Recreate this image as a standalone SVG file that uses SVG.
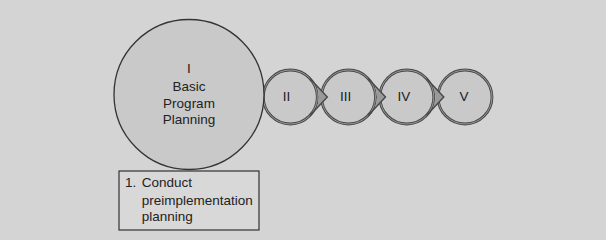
<svg xmlns="http://www.w3.org/2000/svg" width="606" height="240" viewBox="0 0 606 240">
<style>
.t{font-family:"Liberation Sans",Arial,sans-serif;font-size:13.5px;fill:#222}
.c{text-anchor:middle}
.ring{fill:#c9c9c9;stroke:#484848;stroke-width:2.8}
.ringin{fill:none;stroke:#a0a0a0;stroke-width:0.9}
.ah{fill:#9a9a9a;stroke:none}
.al{fill:none;stroke:#484848;stroke-width:1.4;stroke-linejoin:miter}
</style>
<rect x="0" y="0" width="606" height="240" fill="#d4d4d4"/>
<g id="node-V">
<circle class="ring" cx="465" cy="97" r="27"/><circle class="ringin" cx="465" cy="97" r="27"/>
<text class="t c" x="464" y="100.5">V</text>
</g>
<g id="node-IV">
<circle class="ring" cx="406.8" cy="97" r="27"/><circle class="ringin" cx="406.8" cy="97" r="27"/>
<text class="t c" x="404" y="100.5">IV</text>
</g>
<g id="node-III">
<circle class="ring" cx="348.5" cy="97" r="27"/><circle class="ringin" cx="348.5" cy="97" r="27"/>
<text class="t c" x="345.7" y="100.5">III</text>
</g>
<g id="node-II">
<circle class="ring" cx="290.3" cy="97" r="27"/><circle class="ringin" cx="290.3" cy="97" r="27"/>
<text class="t c" x="286.5" y="100.5">II</text>
</g>
<g id="node-I">
<circle cx="189" cy="94.5" r="75" fill="#c9c9c9" stroke="#333" stroke-width="1.3"/>
<text class="t c" x="189" y="73">I</text>
<text class="t c" x="189" y="91">Basic</text>
<text class="t c" x="189" y="107.5">Program</text>
<text class="t c" x="189" y="124">Planning</text>
</g>
<g id="node-step1">
<rect x="119" y="171" width="140" height="59" fill="#d8d8d8" stroke="#333" stroke-width="1.2"/>
<text class="t" x="125" y="187">1.</text>
<text class="t" x="141.7" y="187">Conduct</text>
<text class="t" x="141.7" y="204.5">preimplementation</text>
<text class="t" x="141.7" y="221">planning</text>
</g>
<g id="connectors">
<path class="ah" d="M316.02,84.97 L327.3,97 L316.02,109.03 A28.4 28.4 0 0 0 316.02,84.97 Z"/>
<path class="al" d="M310,78.54 L327.3,97 L310,115.46"/>
<path class="ah" d="M374.22,84.97 L385.5,97 L374.22,109.03 A28.4 28.4 0 0 0 374.22,84.97 Z"/>
<path class="al" d="M368.2,78.54 L385.5,97 L368.2,115.46"/>
<path class="ah" d="M432.52,84.97 L443.8,97 L432.52,109.03 A28.4 28.4 0 0 0 432.52,84.97 Z"/>
<path class="al" d="M426.5,78.54 L443.8,97 L426.5,115.46"/>
</g>
</svg>
